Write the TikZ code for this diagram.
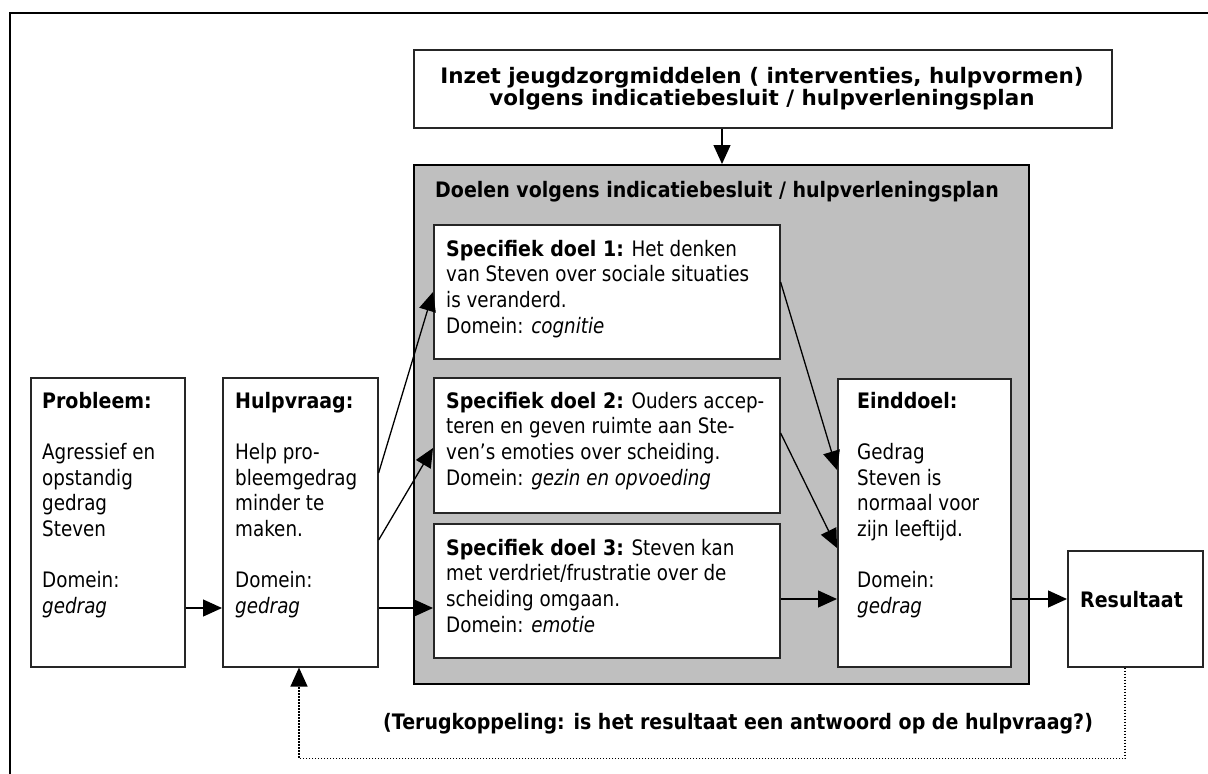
\documentclass[tikz,border=0pt]{standalone}
\usepackage{fontspec}
\setmainfont{DejaVu Sans}[FakeStretch=0.86, BoldFeatures={FakeStretch=0.892}, BoldItalicFeatures={FakeStretch=0.892}]
\usetikzlibrary{arrows.meta,calc}

\tikzset{
  box/.style={draw=black!85, line width=1.6pt, fill=white, anchor=north west, inner sep=0pt},
  panel/.style={draw=black, line width=2pt, fill=black!25, anchor=north west, inner sep=0pt},
  txt/.style={anchor=base west, inner sep=0pt, font=\fontsize{21.3}{25.7}\selectfont},
  link/.style={line width=1.3pt, -{Triangle[length=19pt,width=17pt]}},
  feedback/.style={line width=1.3pt, dash pattern=on 1.3pt off 1.7pt},
}

\begin{document}
\begin{tikzpicture}[x=1pt,y=-1pt]
\useasboundingbox (0,0) rectangle (1208,774);

% outer frame (left and top edges)
\draw[line width=2pt] (10,774) -- (10,13) -- (1208,13);

% resources box
\node[box, minimum width=698pt, minimum height=78pt] (inzet) at (413,49) {};
\node[txt, anchor=base] (inzettxt) at (762,83)
  {\scalebox{1.13}[1]{\begin{tabular}[t]{@{}c@{}}\bfseries Inzet jeugdzorgmiddelen ( interventies, hulpvormen)\\[-3.7pt]
   \bfseries volgens indicatiebesluit / hulpverleningsplan\end{tabular}}};

% goals panel
\node[panel, minimum width=615pt, minimum height=519pt] (doelen) at (413,164) {};
\node[txt] (doelentxt) at (435,197) {\bfseries Doelen volgens indicatiebesluit / hulpverleningsplan};

% specific goals
\node[box, minimum width=346pt, minimum height=134pt] (d1) at (433,224) {};
\node[txt] (d1txt) at (446,256) {\begin{tabular}[t]{@{}l@{}}
  \textbf{Specifiek doel 1:} Het denken\\
  van Steven over sociale situaties\\
  is veranderd.\\
  Domein: \textit{cognitie}\end{tabular}};

\node[box, minimum width=346pt, minimum height=135pt] (d2) at (433,377) {};
\node[txt] (d2txt) at (446,408) {\begin{tabular}[t]{@{}l@{}}
  \textbf{Specifiek doel 2:} Ouders accep-\\
  teren en geven ruimte aan Ste-\\
  ven’s emoties over scheiding.\\
  Domein: \textit{gezin en opvoeding}\end{tabular}};

\node[box, minimum width=346pt, minimum height=134pt] (d3) at (433,523) {};
\node[txt] (d3txt) at (446,555) {\begin{tabular}[t]{@{}l@{}}
  \textbf{Specifiek doel 3:} Steven kan\\
  met verdriet/frustratie over de\\
  scheiding omgaan.\\
  Domein: \textit{emotie}\end{tabular}};

% final goal
\node[box, minimum width=173pt, minimum height=288pt] (eind) at (837,378) {};
\node[txt] (eindtxt) at (857,408) {\begin{tabular}[t]{@{}l@{}}
  \textbf{Einddoel:}\\
  \\
  Gedrag\\
  Steven is\\
  normaal voor\\
  zijn leeftijd.\\
  \\
  Domein:\\
  \textit{gedrag}\end{tabular}};

% result
\node[box, minimum width=135pt, minimum height=116pt] (res) at (1067,550) {};
\node[txt] (restxt) at (1080,607) {\bfseries Resultaat};

% problem
\node[box, minimum width=154pt, minimum height=289pt] (prob) at (30,377) {};
\node[txt] (probtxt) at (42,408) {\begin{tabular}[t]{@{}l@{}}
  \textbf{Probleem:}\\
  \\
  Agressief en\\
  opstandig\\
  gedrag\\
  Steven\\
  \\
  Domein:\\
  \textit{gedrag}\end{tabular}};

% request for help
\node[box, minimum width=155pt, minimum height=289pt] (hulp) at (222,377) {};
\node[txt] (hulptxt) at (235,408) {\begin{tabular}[t]{@{}l@{}}
  \textbf{Hulpvraag:}\\
  \\
  Help pro-\\
  bleemgedrag\\
  minder te\\
  maken.\\
  \\
  Domein:\\
  \textit{gedrag}\end{tabular}};

% connectors
\draw[link] ($(inzet.south west)+(309,0)$) -- ($(doelen.north west)+(309,0)$);
\draw[link] ($(prob.north east)+(0,231)$) -- ($(hulp.north west)+(0,231)$);
\draw[link] ($(hulp.north east)+(0,96)$)  -- ($(d1.north west)+(0,68)$);
\draw[link] ($(hulp.north east)+(0,163)$) -- ($(d2.north west)+(0,71)$);
\draw[link] ($(hulp.north east)+(0,231)$) -- ($(d3.north west)+(0,85)$);
\draw[link] ($(d1.north east)+(0,58)$)  -- ($(eind.north west)+(0,92)$);
\draw[link] ($(d2.north east)+(0,56)$)  -- ($(eind.north west)+(0,170)$);
\draw[link] ($(d3.north east)+(0,76)$)  -- ($(eind.north west)+(0,221)$);
\draw[link] ($(eind.north east)+(0,221)$) -- ($(res.north west)+(0,49)$);

% feedback loop
\coordinate (fbR) at ($(res.south west)+(58,91)$);
\coordinate (fbL) at ($(hulp.south west)+(77,91)$);
\draw[feedback] ($(res.south west)+(58,0)$) -- (fbR) -- (fbL) -- ($(hulp.south west)+(77,8)$);
\draw[link] ($(hulp.south west)+(77,10)$) -- ($(hulp.south west)+(77,0)$);
\node[txt] (fbtxt) at (383,729) {\bfseries (Terugkoppeling: is het resultaat een antwoord op de hulpvraag?)};

\end{tikzpicture}
\end{document}
